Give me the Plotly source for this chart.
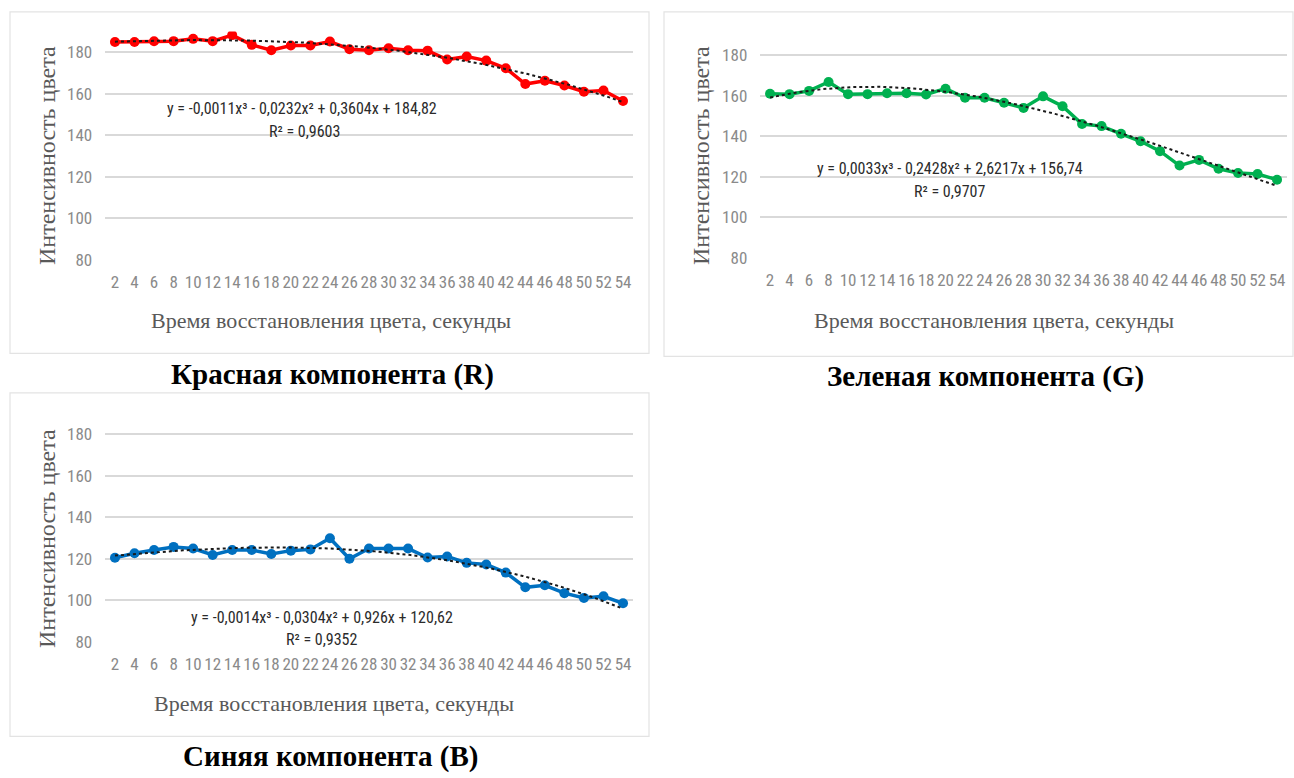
import numpy as np
import plotly.graph_objects as go

# Time axis (seconds) and measured channel intensities
seconds = list(range(2, 56, 2))
red_values = [185, 185, 185.3, 185.4, 186.5, 185.4, 188.3, 183.6, 181, 183.3, 183.3, 185.2, 181.5,
              181, 182, 181, 180.8, 176.5, 178, 176, 172.3, 164.7, 166.3, 164, 161, 161.6, 156.5]
green_values = [161, 160.8, 162.4, 166.8, 160.8, 160.8, 161.2, 161.2, 160.6, 163.5, 159, 159, 156.5,
                154, 159.7, 154.8, 146, 145, 141.2, 137.5, 132.6, 125.5, 128.3, 123.9, 121.8, 121.3, 118.5]
blue_values = [120.5, 122.6, 124.2, 125.7, 124.9, 121.8, 124.2, 124.2, 122.3, 123.9, 124.5, 129.9, 120,
               124.9, 124.9, 124.9, 120.6, 121.1, 118, 117.2, 113.3, 106.2, 107.2, 103.4, 101.1, 101.9, 98.5]

# Cubic trend coefficients (a3, a2, a1, a0) over the point index 1..27
red_coef = [-0.0011, -0.0232, 0.3604, 184.82]
green_coef = [0.0033, -0.2428, 2.6217, 156.74]
blue_coef = [-0.0014, -0.0304, 0.926, 120.62]
red_eq = "y = -0,0011x³ - 0,0232x² + 0,3604x + 184,82"
green_eq = "y = 0,0033x³ - 0,2428x² + 2,6217x + 156,74"
blue_eq = "y = -0,0014x³ - 0,0304x² + 0,926x + 120,62"
red_r2 = "R² = 0,9603"
green_r2 = "R² = 0,9707"
blue_r2 = "R² = 0,9352"

y_ticks = [80, 100, 120, 140, 160, 180]
x_title = "Время восстановления цвета, секунды"
y_title = "Интенсивность цвета"
captions = ["Красная компонента (R)", "Зеленая компонента (G)", "Синяя компонента (B)"]

W, H = 1294, 778
def px(x): return x / W
def py(y): return 1 - y / H

idx = list(range(1, len(seconds) + 1))
fine = np.linspace(1, len(seconds), 300)

SANS = "Liberation Sans Narrow, Roboto Condensed, Liberation Sans, sans-serif"
SERIF = "Liberation Serif, Times New Roman, serif"

panels = [
    dict(vals=red_values, coef=red_coef, eq=red_eq, r2=red_r2, color="#FF0000",
         box=(10, 12, 649, 358), plot=(105.2, 32, 632.8, 263),
         eq_pos=(302, 110), r2_pos=(304, 133), xt=(331, 325), yt=(47, 158),
         cap=(332, 379), caption=captions[0]),
    dict(vals=green_values, coef=green_coef, eq=green_eq, r2=green_r2, color="#00B050",
         box=(664, 12, 1293, 361), plot=(760.3, 35.5, 1286.8, 261),
         eq_pos=(950, 171), r2_pos=(950, 194), xt=(994, 325), yt=(701, 158),
         cap=(985, 381), caption=captions[1]),
    dict(vals=blue_values, coef=blue_coef, eq=blue_eq, r2=blue_r2, color="#0070C0",
         box=(10, 398, 649, 746), plot=(105.2, 419, 632.8, 650),
         eq_pos=(322, 626), r2_pos=(322, 648), xt=(334, 713), yt=(47, 546),
         cap=(331, 766), caption=captions[2]),
]

fig = go.Figure()
shapes, annotations = [], []

for i, p in enumerate(panels, start=1):
    xa = "x" if i == 1 else f"x{i}"
    ya = "y" if i == 1 else f"y{i}"
    a3, a2, a1, a0 = p["coef"]
    trend = a3 * fine**3 + a2 * fine**2 + a1 * fine + a0

    fig.add_trace(go.Scatter(x=idx, y=p["vals"], mode="lines+markers", xaxis=xa, yaxis=ya,
                             line=dict(color=p["color"], width=3.5),
                             marker=dict(color=p["color"], size=10, symbol="circle"),
                             showlegend=False))
    fig.add_trace(go.Scatter(x=fine, y=trend, mode="lines", xaxis=xa, yaxis=ya,
                             line=dict(color="#1a1a1a", width=2, dash="dot"),
                             showlegend=False))

    x0, y0, x1, y1 = p["plot"]
    fig.update_layout(**{
        ("xaxis" if i == 1 else f"xaxis{i}"): dict(
            domain=[px(x0), px(x1)], anchor=ya, range=[0.5, len(seconds) + 0.5],
            tickmode="array", tickvals=idx, ticktext=[str(s) for s in seconds],
            showgrid=False, zeroline=False, showline=False, ticks="",
            ticklabelstandoff=10, tickangle=0,
            tickfont=dict(family=SANS, size=17, color="#8a8a8a"), fixedrange=True),
        ("yaxis" if i == 1 else f"yaxis{i}"): dict(
            domain=[py(y1), py(y0)], anchor=xa, range=[80, 190],
            tickmode="array", tickvals=y_ticks,
            showgrid=True, gridcolor="#D9D9D9", gridwidth=1.5, zeroline=False,
            showline=False, ticks="", ticklabelstandoff=12,
            tickfont=dict(family=SANS, size=17, color="#8a8a8a"), fixedrange=True),
    })

    bx0, by0, bx1, by1 = p["box"]
    shapes.append(dict(type="rect", xref="paper", yref="paper",
                       x0=px(bx0), x1=px(bx1), y0=py(by1), y1=py(by0),
                       line=dict(color="#E3E3E3", width=1.2), fillcolor="rgba(0,0,0,0)",
                       layer="below"))

    annotations += [
        dict(x=px(p["eq_pos"][0]), y=py(p["eq_pos"][1]), text=p["eq"],
             font=dict(family=SANS, size=16, color="#2b2b2b")),
        dict(x=px(p["r2_pos"][0]), y=py(p["r2_pos"][1]), text=p["r2"],
             font=dict(family=SANS, size=16, color="#2b2b2b")),
        dict(x=px(p["xt"][0]), y=py(p["xt"][1]), text=x_title,
             font=dict(family=SERIF, size=22, color="#595959")),
        dict(x=px(p["yt"][0]), y=py(p["yt"][1]), text=y_title, textangle=-90,
             font=dict(family=SERIF, size=24, color="#595959")),
        dict(x=px(p["cap"][0]), y=py(p["cap"][1]), text=f"<b>{p['caption']}</b>",
             font=dict(family=SERIF, size=29, color="#000000")),
    ]

for a in annotations:
    a.update(xref="paper", yref="paper", showarrow=False, xanchor="center", yanchor="middle")

fig.update_layout(width=W, height=H, margin=dict(l=0, r=0, t=0, b=0),
                  paper_bgcolor="white", plot_bgcolor="white",
                  shapes=shapes, annotations=annotations)

fig.write_html("out.html")
